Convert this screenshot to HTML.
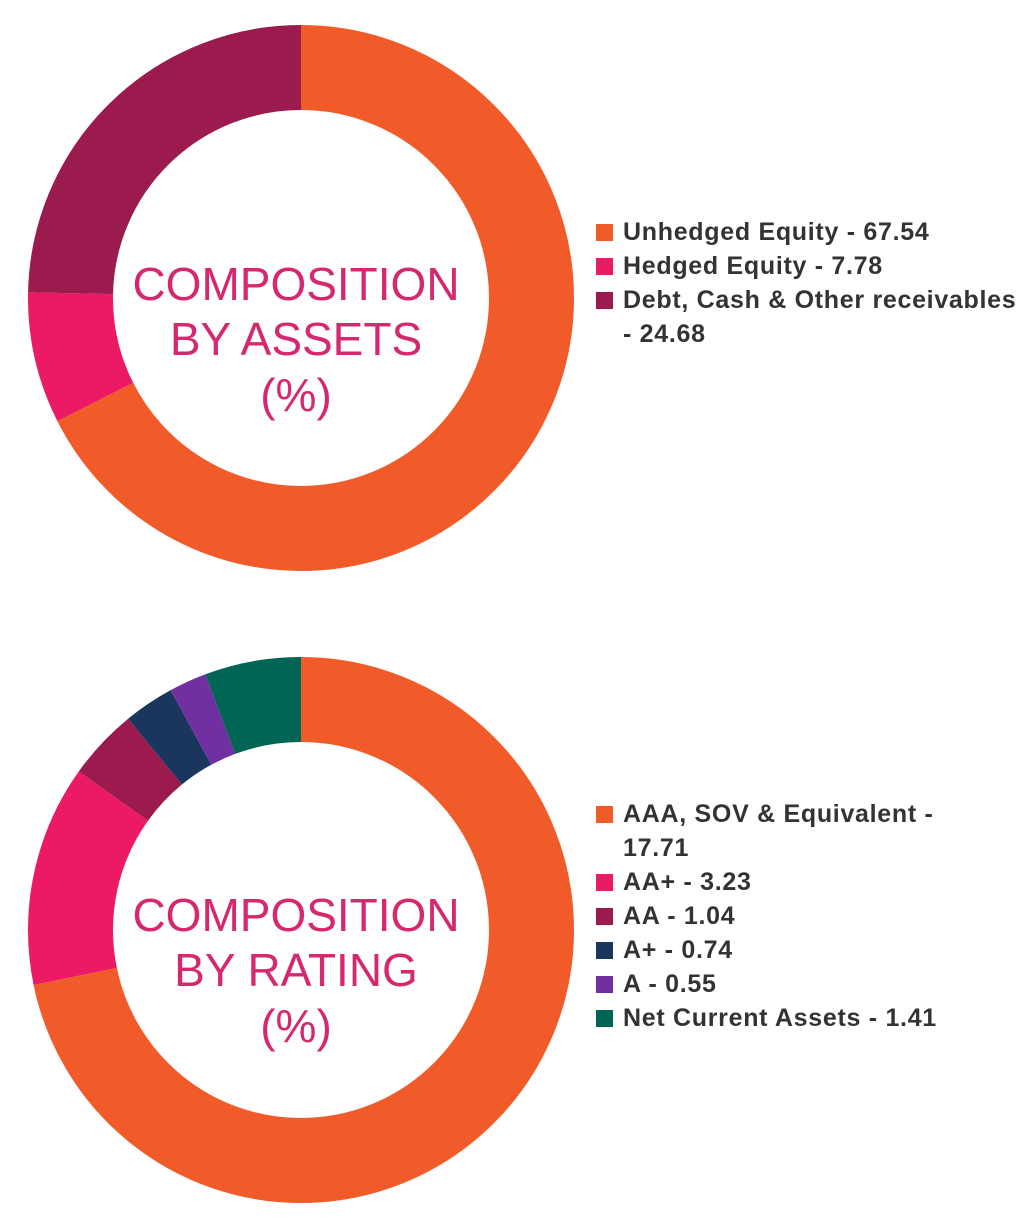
<!DOCTYPE html>
<html><head><meta charset="utf-8"><style>
body{margin:0;background:#fff;width:1028px;height:1225px;overflow:hidden}
svg{display:block}
.c{font-family:"Liberation Sans",sans-serif;font-size:46px;fill:#D6286F;text-anchor:middle}
.l{font-family:"Liberation Sans",sans-serif;font-size:25px;font-weight:bold;fill:#333;letter-spacing:0.7px}
</style></head><body>
<svg width="1028" height="1225" viewBox="0 0 1028 1225">
<g transform="translate(301,298) rotate(-90)" fill="none" stroke-width="85">
<circle r="230.5" stroke="#F15A29" stroke-dasharray="978.2 1448.3" stroke-dashoffset="0"/>
<circle r="230.5" stroke="#EC1A65" stroke-dasharray="112.7 1448.3" stroke-dashoffset="-978.2"/>
<circle r="230.5" stroke="#9B1B4E" stroke-dasharray="357.4 1448.3" stroke-dashoffset="-1090.9"/>
</g>
<text class="c" x="296" y="300">COMPOSITION</text>
<text class="c" x="296" y="355">BY ASSETS</text>
<text class="c" x="296" y="411">(%)</text>
<rect x="596" y="224" width="17" height="17" fill="#F15A29"/>
<rect x="596" y="258" width="17" height="17" fill="#EC1A65"/>
<rect x="596" y="292" width="17" height="17" fill="#9B1B4E"/>
<text class="l" x="623" y="240">Unhedged Equity - 67.54</text>
<text class="l" x="623" y="274">Hedged Equity - 7.78</text>
<text class="l" x="623" y="308">Debt, Cash &amp; Other receivables</text>
<text class="l" x="623" y="342">- 24.68</text>

<g transform="translate(301,930) rotate(-90)" fill="none" stroke-width="85">
<circle r="230.5" stroke="#F15A29" stroke-dasharray="1039.3 1448.3" stroke-dashoffset="0"/>
<circle r="230.5" stroke="#EC1A65" stroke-dasharray="189.6 1448.3" stroke-dashoffset="-1039.3"/>
<circle r="230.5" stroke="#9B1B4E" stroke-dasharray="61 1448.3" stroke-dashoffset="-1228.9"/>
<circle r="230.5" stroke="#1B365D" stroke-dasharray="43.4 1448.3" stroke-dashoffset="-1289.9"/>
<circle r="230.5" stroke="#7030A0" stroke-dasharray="32.3 1448.3" stroke-dashoffset="-1333.3"/>
<circle r="230.5" stroke="#006554" stroke-dasharray="82.7 1448.3" stroke-dashoffset="-1365.6"/>
</g>
<text class="c" x="296" y="931">COMPOSITION</text>
<text class="c" x="296" y="986">BY RATING</text>
<text class="c" x="296" y="1042">(%)</text>
<rect x="596" y="806" width="17" height="17" fill="#F15A29"/>
<rect x="596" y="874" width="17" height="17" fill="#EC1A65"/>
<rect x="596" y="908" width="17" height="17" fill="#9B1B4E"/>
<rect x="596" y="942" width="17" height="17" fill="#1B365D"/>
<rect x="596" y="976" width="17" height="17" fill="#7030A0"/>
<rect x="596" y="1010" width="17" height="17" fill="#006554"/>
<text class="l" x="623" y="822">AAA, SOV &amp; Equivalent -</text>
<text class="l" x="623" y="856">17.71</text>
<text class="l" x="623" y="890">AA+ - 3.23</text>
<text class="l" x="623" y="924">AA - 1.04</text>
<text class="l" x="623" y="958">A+ - 0.74</text>
<text class="l" x="623" y="992">A - 0.55</text>
<text class="l" x="623" y="1026">Net Current Assets - 1.41</text>
</svg>
</body></html>
